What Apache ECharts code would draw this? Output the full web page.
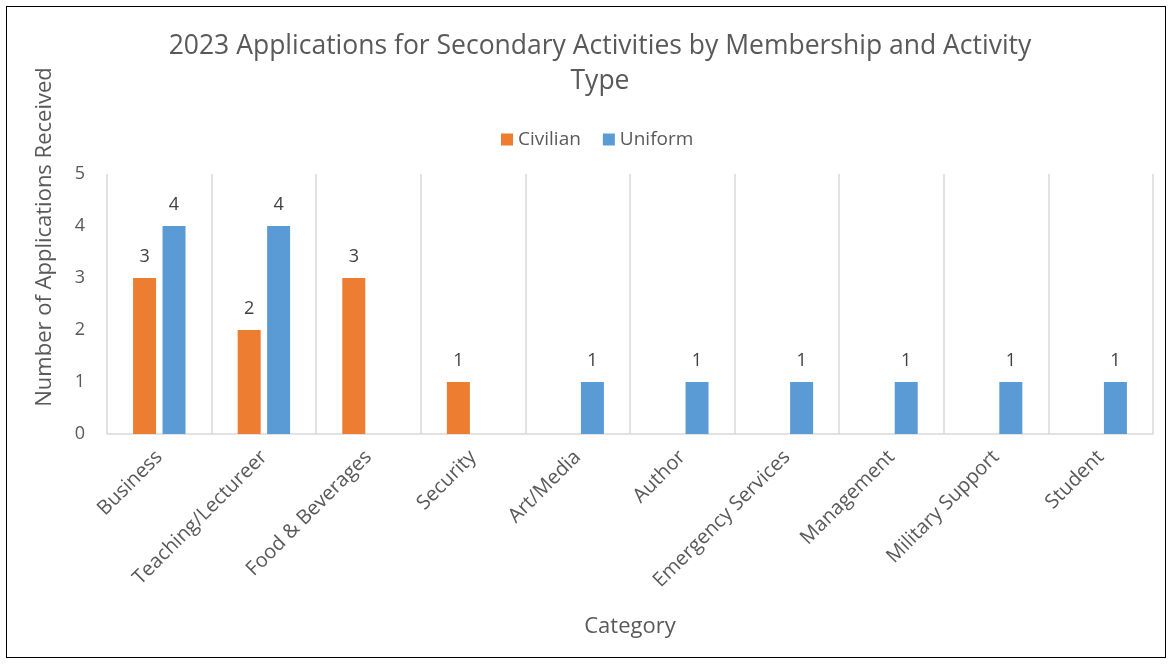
<!DOCTYPE html>
<html>
<head>
<meta charset="utf-8">
<script src="https://cdn.jsdelivr.net/npm/echarts@6/dist/echarts.min.js"></script>
<style>
  html, body { margin: 0; padding: 0; background: #fff; }
  #frame { position: absolute; left: 6px; top: 6px; width: 1160px; height: 652px; border: 1.5px solid #000; box-sizing: border-box; }
  #chart { position: absolute; left: 0; top: 0; width: 1172px; height: 664px; }
</style>
</head>
<body>
<div id="chart"></div>
<div id="frame"></div>
<script>
const categories = ['Business', 'Teaching/Lectureer', 'Food & Beverages', 'Security', 'Art/Media', 'Author', 'Emergency Services', 'Management', 'Military Support', 'Student'];
const civilian = [3, 2, 3, 1, null, null, null, null, null, null];
const uniform = [4, 4, null, null, 1, 1, 1, 1, 1, 1];
const yTicks = [0, 1, 2, 3, 4, 5];

const FONT = 'Open Sans';
const chart = echarts.init(document.getElementById('chart'));
chart.setOption({
  animation: false,
  textStyle: { fontFamily: FONT },
  title: {
    text: '2023 Applications for Secondary Activities by Membership and Activity\nType',
    left: 600,
    textAlign: 'center',
    top: 29,
    padding: 0,
    textStyle: { fontFamily: FONT, fontSize: 26.5, fontWeight: 'normal', color: '#595959', lineHeight: 35 }
  },
  legend: {
    top: 125,
    left: 496,
    itemWidth: 12,
    itemHeight: 12,
    itemGap: 22,
    icon: 'rect',
    textStyle: { fontFamily: FONT, fontSize: 19, color: '#595959' },
    data: ['Civilian', 'Uniform']
  },
  graphic: [{
    type: 'text',
    x: 45,
    y: 237,
    rotation: Math.PI / 2,
    style: {
      text: 'Number of Applications Received',
      fontFamily: FONT, fontSize: 22, fill: '#595959',
      textAlign: 'center', textVerticalAlign: 'middle'
    }
  }],
  grid: { left: 107, right: 19, top: 174, bottom: 230, containLabel: false },
  xAxis: {
    type: 'category',
    data: categories,
    name: 'Category',
    nameLocation: 'middle',
    nameGap: 182,
    nameTextStyle: { fontFamily: FONT, fontSize: 22, color: '#595959' },
    axisLine: { lineStyle: { color: '#d9d9d9', width: 1.5 } },
    axisTick: { show: false },
    splitLine: { show: true, interval: 0, lineStyle: { color: '#d9d9d9', width: 1.5 } },
    axisLabel: { interval: 0, rotate: 45, margin: 20, fontFamily: FONT, fontSize: 20, color: '#595959' }
  },
  yAxis: {
    type: 'value',
    min: 0,
    max: 5,
    interval: 1,
    axisLine: { show: false },
    axisTick: { show: false },
    splitLine: { show: false },
    axisLabel: {
      margin: 22, fontFamily: FONT, fontSize: 18, color: '#595959',
      formatter: v => yTicks.includes(v) ? String(v) : ''
    }
  },
  series: [
    {
      name: 'Civilian', type: 'bar', data: civilian,
      barWidth: 23, barGap: '28%',
      itemStyle: { color: '#ED7D31' },
      label: { show: true, position: 'top', distance: 12, fontFamily: FONT, fontSize: 18, color: '#404040' }
    },
    {
      name: 'Uniform', type: 'bar', data: uniform,
      barWidth: 23,
      itemStyle: { color: '#5B9BD5' },
      label: { show: true, position: 'top', distance: 12, fontFamily: FONT, fontSize: 18, color: '#404040' }
    }
  ]
});
</script>
</body>
</html>
